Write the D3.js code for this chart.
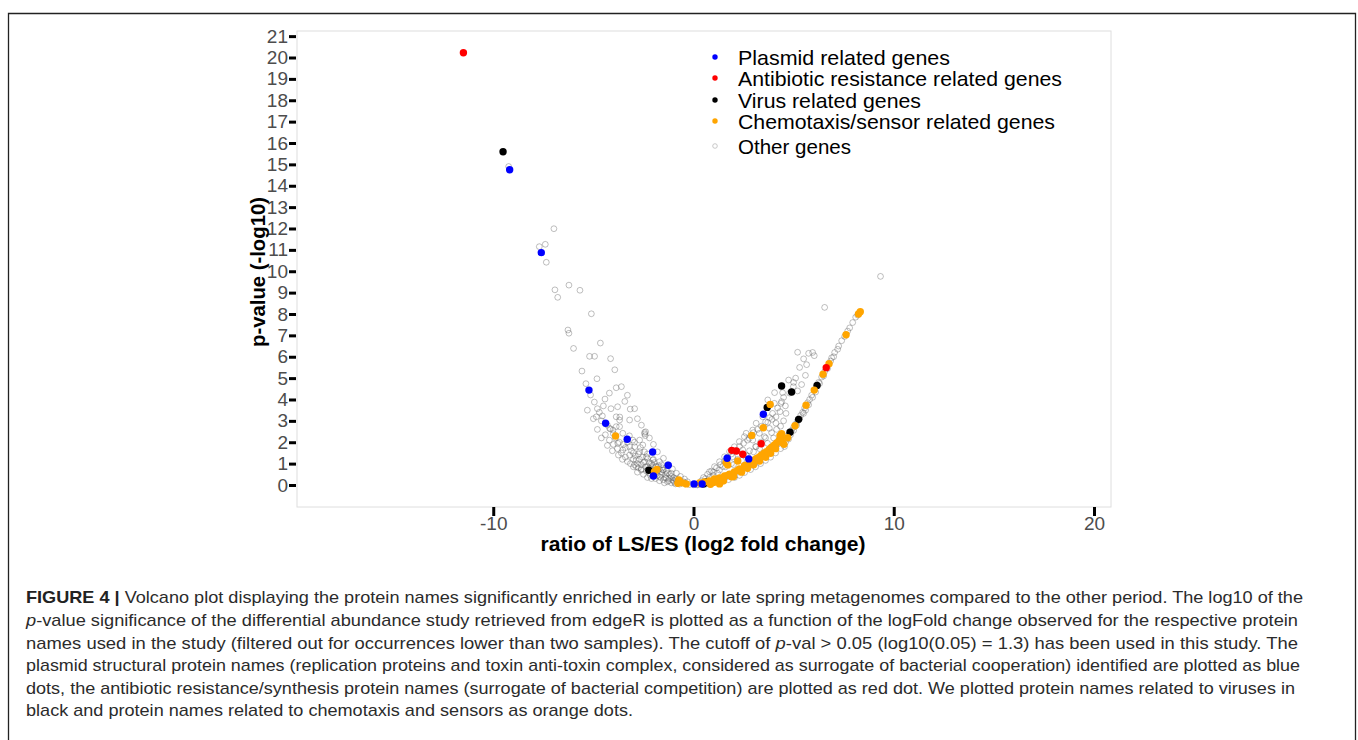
<!DOCTYPE html>
<html><head><meta charset="utf-8">
<script src="https://cdn.jsdelivr.net/npm/d3@7"></script>
<style>body{margin:0;background:#fff}svg{display:block}</style>
</head><body>
<svg id="c" width="1358" height="740"></svg>
<script>
const yTicks = d3.range(0, 22);
const xTicks = [-10, 0, 10, 20];
const legendLabels = ["Plasmid related genes","Antibiotic resistance related genes","Virus related genes","Chemotaxis/sensor related genes","Other genes"];
const legendColors = ["#0000ff","#ff0000","#000000","#ffa500","none"];
const xTitle = "ratio of LS/ES (log2 fold change)";
const yTitle = "p-value (-log10)";

const plasmid = [[-9.18,14.75],[-7.60,10.87],[-5.22,4.44],[-4.39,2.89],[-3.31,2.14],[-2.04,1.54],[-1.26,0.92],[-2.00,0.42],[0.03,0.05],[0.43,0.05],[3.49,3.31],[1.68,1.25],[2.76,1.22]];
const antibiotic = [[-11.49,20.22],[6.63,5.49],[3.38,1.93],[1.91,1.62],[2.14,1.59],[2.46,1.44]];
const virus = [[-9.51,15.59],[-2.23,0.69],[0.63,0.14],[0.5,0.05],[4.40,4.63],[4.90,4.35],[3.68,3.63],[4.82,2.47],[5.25,3.07],[6.17,4.66]];
const chemotaxis = [[-3.89,2.29],[-1.95,0.62],[-1.83,0.73],[-0.73,0.23],[-0.78,0.08],[-0.36,0.05],[-0.55,0.10],
 [0.85,0.03],[1.0,0.12],[1.3,0.05],[0.30,0.09],[0.55,0.14],[0.80,0.19],[1.05,0.28],[1.30,0.33],[1.55,0.42],[1.80,0.51],[2.04,0.61],[2.29,0.75],[2.54,0.89],[2.79,1.03],[3.04,1.17],[3.29,1.31],[3.54,1.50],[3.79,1.68],[4.04,1.87],[4.29,2.10],[4.40,2.40],[4.32,2.31],[4.52,1.90],[4.45,1.98],
 [1.2,0.25],[1.7,0.45],[2.2,0.68],[2.6,0.92],[2.9,1.08],[3.15,1.24],[3.4,1.40],[3.65,1.56],[3.9,1.77],[4.15,1.97],[1.5,0.2],[2.0,0.4],
 [1.4,0.22],[1.9,0.38],[2.4,0.6],[2.7,0.78],[3.0,0.95],[3.3,1.12],[3.6,1.3],[3.85,1.48],[4.1,1.7],[4.38,2.2],
 [1.71,0.94],[1.63,1.04],[2.21,1.12],[2.91,2.32],[3.49,2.68],[3.83,3.77],[4.70,2.21],[5.07,2.77],[5.62,3.73],[6.03,4.44],[6.47,5.18],[6.77,5.67],[7.62,7.03],[8.33,8.11],[8.24,8.00]];
const other = [[-9.23,14.9],[-6.97,11.99],[-7.70,11.15],[-7.40,11.26],[-7.35,10.42],[-6.92,9.13],[-6.22,9.35],[-5.67,9.11],[-6.78,8.78],[-5.10,8.01],[-6.27,7.25],[-6.22,7.10],[-4.65,6.64],[-5.99,6.39],[-5.19,6.02],[-4.94,6.02],[-4.14,5.91],[-5.57,5.33],[-3.93,5.39],[-4.82,4.97],[-5.37,4.74],[-3.86,4.55],[-5.14,4.21],[-4.42,4.02],[-4.95,3.88],[-3.43,3.91],[-3.79,3.66],[-4.12,3.57],[-4.80,3.57],[-3.16,3.55],[-2.94,3.57],[-4.55,3.23],[-3.86,3.19],[-3.68,3.18],[-3.19,3.04],[-4.15,2.62],[-2.44,2.46],[-2.41,2.31],
 [-3.69,2.73],[-4.02,2.57],[-3.53,2.42],[-3.03,2.10],[-2.94,1.79],[-2.53,1.87],[-2.69,1.56],[-3.19,1.40],[-2.86,1.17],[-2.44,1.09],[-2.36,1.32],[-2.03,1.17],[-1.70,1.09],[-2.28,0.86],[-1.86,0.86],[-1.53,0.70],[-1.70,0.39],[-1.36,0.31],[-1.11,0.55],[-1.03,0.23],[-2.61,0.70],[-2.86,0.86],[-2.44,2.39],[-2.39,2.49],[-2.69,2.10],[-3.19,1.79],[-3.53,1.64],[-3.78,1.95],[-3.86,2.73],[-3.69,3.04],[-4.19,2.65],[-4.85,3.19],
 [-1.8,0.45],[-1.6,0.5],[-1.4,0.35],[-1.2,0.3],[-1.0,0.2],[-0.8,0.15],[-0.6,0.1],[-0.4,0.05],[-0.2,0.02],[0,0.01],[0.2,0.02],[-1.5,0.25],[-1.3,0.15],[-1.1,0.1],[-0.9,0.05],[-0.7,0.04],[-2.5,0.5],[-2.3,0.35],[-2.1,0.3],[-2.8,0.6],[-2.6,0.75],[-3.0,0.85],[-2.2,0.55],[-1.9,0.3],[-1.7,0.2],[-1.45,0.1],
 [-3.0,1.2],[-2.8,1.0],[-2.6,0.95],[-2.4,0.85],[-2.2,0.8],[-2.0,0.7],[-1.8,0.65],[-1.6,0.6],[-1.4,0.5],[-3.4,1.3],[-3.6,1.5],[-3.8,1.7],[-4.0,1.9],[-4.2,2.1],[-4.4,2.35],[-3.3,1.1],[-3.1,1.6],[-2.9,1.35],[-2.7,1.2],[-2.5,1.05],[-2.3,1.25],[-2.1,1.0],[-1.9,0.85],[-1.7,0.75],[-1.5,0.7],[-1.3,0.55],[-1.1,0.4],[-0.9,0.3],[-0.7,0.2],[-0.5,0.15],[-3.5,1.9],[-3.2,2.3],[-2.95,2.0],[-2.65,1.75],[-2.3,1.45],[-2.0,1.2],[-1.6,0.95],
 [-4.6,3.0],[-4.3,2.8],[-4.0,2.4],[-3.9,2.2],[-3.7,2.0],[-3.4,1.75],[-3.3,2.0],[-3.0,1.5],[-2.75,1.45],[-2.55,1.3],[-2.45,1.55],[-2.2,1.05],[-2.05,0.9],[-1.95,1.05],[-1.75,0.9],[-1.55,0.8],[-1.35,0.65],[-1.2,0.5],[-1.0,0.35],[-0.85,0.25],[-0.65,0.18],[-0.45,0.1],[-2.35,0.65],[-2.15,0.45],[-1.95,0.45],[-1.65,0.35],[-1.25,0.2],[-0.95,0.12],[-3.15,1.0],[-2.95,0.95],[-2.75,0.8],[-3.55,1.2],[-3.75,1.4],[-4.05,1.6],[-4.3,1.85],[-4.6,2.2],[-4.8,2.6],[-5.0,3.1],[-5.3,3.5],[-4.7,3.4],[-4.5,3.7],[-4.2,4.3],[-3.6,4.6],[-3.3,4.2],[-2.8,3.1],[-2.6,2.8],[-2.2,2.2],[-2.0,1.9],[-1.8,1.55],[-1.5,1.25],[-1.3,0.95],[-1.05,0.75],[-0.85,0.55],[-0.65,0.4],[-0.45,0.28],[-0.3,0.15],
 [0.4,0.2],[0.6,0.3],[0.8,0.35],[1.0,0.45],[1.2,0.55],[0.3,0.05],[0.5,0.1],[0.7,0.08],[0.9,0.15],[1.1,0.2],[1.4,0.3],[1.6,0.35],[1.8,0.4],[2.0,0.5],[2.2,0.6],[2.4,0.7],[2.6,0.8],[2.8,0.95],[3.0,1.05],[3.2,1.15],[3.4,1.3],[3.6,1.42],[3.8,1.58],[4.0,1.75],[4.2,1.92],
 [0.2,0.0],[0.45,0.02],[0.65,0.05],[0.95,0.08],[1.25,0.12],[1.5,0.18],[1.75,0.25],[2.05,0.35],[2.3,0.45],[2.55,0.58],[2.85,0.72],[3.1,0.85],[3.35,1.0],[3.6,1.15],[3.85,1.3],[4.1,1.5],[4.35,1.7],[4.55,1.8],
 [0.5,0.35],[0.7,0.5],[0.9,0.65],[1.15,0.8],[1.35,0.95],[1.55,1.1],[1.7,1.3],[1.9,1.45],[2.1,1.6],[2.3,1.8],[2.5,1.95],[2.7,2.1],[2.85,2.3],[3.0,2.45],[3.2,2.6],[3.4,2.75],[3.6,2.95],[3.8,3.15],[3.95,3.35],[4.2,3.6],[4.4,3.9],[4.5,4.1],[4.8,4.3],[5.0,4.8],[5.1,5.0],[5.3,5.5],[5.5,5.9],[5.95,6.2],[5.4,4.7],[5.2,4.4],
 [1.0,0.6],[1.3,0.7],[1.6,0.85],[1.9,1.0],[2.2,1.2],[2.5,1.4],[2.8,1.6],[3.1,1.8],[3.35,2.0],[3.6,2.2],[3.9,2.45],[4.15,2.6],[4.35,2.75],[4.5,3.0],[2.0,0.95],[2.4,1.15],[2.7,1.35],[3.0,1.55],[3.3,1.7],[3.7,1.95],[4.0,2.2],
 [4.6,2.0],[4.7,2.3],[4.9,2.55],[5.0,2.7],[5.1,2.85],[5.2,3.0],[5.35,3.25],[5.45,3.4],[5.55,3.6],[5.7,3.85],[5.8,4.0],[5.9,4.2],[6.05,4.45],[6.25,4.8],[6.4,5.05],[6.55,5.3],[6.85,5.8],[6.9,5.95],[7.05,6.2],[7.25,6.5],[7.4,6.75],[7.55,6.95],[7.7,7.2],[7.8,7.35],[7.95,7.6],[8.1,7.85],[8.2,7.95],
 [4.75,2.15],[4.85,2.35],[5.0,2.55],[5.15,2.8],[5.3,3.1],[5.5,3.35],[5.6,3.5],[5.75,3.75],[5.95,4.1],[6.1,4.35],[6.3,4.75],[6.5,5.1],[6.7,5.45],[7.0,6.0],[7.2,6.35],
 [9.34,9.76],[6.55,8.31],[5.20,6.21],[5.75,6.16],[6.03,6.05],[5.65,5.63],[5.59,5.13],[4.75,4.91],[4.99,4.60],[4.45,4.32],[4.05,4.32],[3.71,3.98],[4.04,3.82],[4.37,3.82],[4.59,3.70],[4.62,3.35],[4.32,3.43],[4.12,3.19],[3.92,3.07],[3.71,2.93],[3.46,3.19],[3.13,2.89],[2.96,2.57],[2.63,2.42],[2.54,2.26],[2.79,2.18],[2.29,2.03],[2.04,1.79],[1.80,1.56],[1.55,1.32],[1.30,1.09],[1.05,0.86],[0.80,0.62],[3.79,2.65],[4.12,2.89],[3.29,2.42],[3.54,2.26],[2.96,2.10],[3.13,1.79],[2.46,1.64],[1.96,1.32],[2.63,1.40],[1.46,0.86]];

const svg = d3.select("#c");
const x = d3.scaleLinear().domain([-19.8, 20.85]).range([297, 1111]);
const y = d3.scaleLinear().domain([-1.03, 21.24]).range([507, 31]);
const labelFont = "19px 'Liberation Sans', Arial, sans-serif";

// outer frame
svg.append("path").attr("d","M8.5,745 V13.5 H1355.5 V745").attr("fill","none").attr("stroke","#222").attr("stroke-width",1.3);

// panel
svg.append("rect").attr("x",297).attr("y",31).attr("width",814).attr("height",476)
  .attr("fill","#fff").attr("stroke","#dedede").attr("stroke-width",1);

// axes
const gy = svg.append("g").attr("transform","translate(296,0)")
  .call(d3.axisLeft(y).tickValues(yTicks).tickSize(7).tickPadding(1).tickFormat(d3.format("d")));
gy.select(".domain").remove();
gy.selectAll("line").attr("stroke","#000").attr("stroke-width",3);
gy.selectAll("text").attr("fill","#4d4d4d").style("font",labelFont);

const gx = svg.append("g").attr("transform","translate(0,507)")
  .call(d3.axisBottom(x).tickValues(xTicks).tickSize(9).tickPadding(1)
    .tickFormat(d => (d < 0 ? "-" : "") + Math.abs(d)));
gx.select(".domain").remove();
gx.selectAll("line").attr("stroke","#000").attr("stroke-width",3);
gx.selectAll("text").attr("fill","#4d4d4d").style("font",labelFont);

svg.append("text").attr("x",703).attr("y",551).attr("text-anchor","middle")
  .attr("textLength",325).attr("lengthAdjust","spacingAndGlyphs")
  .style("font","bold 19.5px 'Liberation Sans', Arial, sans-serif").text(xTitle);
svg.append("text").attr("transform","translate(265,272) rotate(-90)").attr("text-anchor","middle")
  .attr("textLength",150).attr("lengthAdjust","spacingAndGlyphs")
  .style("font","bold 20px 'Liberation Sans', Arial, sans-serif").text(yTitle);

// points
const plot = svg.append("g");
plot.selectAll("circle.o").data(other).join("circle").attr("class","o")
  .attr("cx",d=>x(d[0])).attr("cy",d=>y(d[1])).attr("r",2.9)
  .attr("fill","none").attr("stroke","#5e5e5e").attr("stroke-opacity",0.5).attr("stroke-width",0.8);
function filled(data, color){
  plot.append("g").selectAll("circle").data(data).join("circle")
    .attr("cx",d=>x(d[0])).attr("cy",d=>y(d[1])).attr("r",3.7).attr("fill",color);
}
filled(virus,"#000000");
filled(chemotaxis,"#ffa500");
filled(plasmid,"#0000ff");
filled(antibiotic,"#ff0000");

// legend
const legY = [57, 78, 100, 121, 146];
const legW = [212, 324, 183, 317, 113];
const lg = svg.append("g");
legendLabels.forEach((t,i)=>{
  if (legendColors[i] === "none") {
    lg.append("circle").attr("cx",715).attr("cy",legY[i]).attr("r",2.3).attr("fill","none").attr("stroke","#bbb").attr("stroke-width",0.8);
  } else {
    lg.append("circle").attr("cx",715).attr("cy",legY[i]).attr("r",2.7).attr("fill",legendColors[i]);
  }
  lg.append("text").attr("x",738).attr("y",legY[i]+7.5).attr("fill","#000")
    .attr("textLength",legW[i]).attr("lengthAdjust","spacingAndGlyphs")
    .style("font","21px 'Liberation Sans', Arial, sans-serif").text(t);
});

// caption
const cap = [
 {b:"FIGURE 4 | ", t:"Volcano plot displaying the protein names significantly enriched in early or late spring metagenomes compared to the other period. The log10 of the", w:1277},
 {i:"p", t:"-value significance of the differential abundance study retrieved from edgeR is plotted as a function of the logFold change observed for the respective protein", w:1272},
 {t:"names used in the study (filtered out for occurrences lower than two samples). The cutoff of ", i2:"p", t2:"-val > 0.05 (log10(0.05) = 1.3) has been used in this study. The", w:1272},
 {t:"plasmid structural protein names (replication proteins and toxin anti-toxin complex, considered as surrogate of bacterial cooperation) identified are plotted as blue", w:1274},
 {t:"dots, the antibiotic resistance/synthesis protein names (surrogate of bacterial competition) are plotted as red dot. We plotted protein names related to viruses in", w:1269},
 {t:"black and protein names related to chemotaxis and sensors as orange dots.", w:607}
];
const capY = [603, 626, 649, 671, 694, 716];
cap.forEach((c,i)=>{
  const tx = svg.append("text").attr("x",26).attr("y",capY[i]).attr("fill","#2b2b2b")
    .style("font","17px 'Liberation Sans', Arial, sans-serif");
  if (c.w) tx.attr("textLength",c.w).attr("lengthAdjust","spacingAndGlyphs");
  if (c.b) tx.append("tspan").style("font-weight","bold").attr("fill","#222").text(c.b);
  if (c.i) tx.append("tspan").style("font-style","italic").text(c.i);
  tx.append("tspan").text(c.t);
  if (c.i2) { tx.append("tspan").style("font-style","italic").text(c.i2); tx.append("tspan").text(c.t2); }
});
</script>
</body></html>
